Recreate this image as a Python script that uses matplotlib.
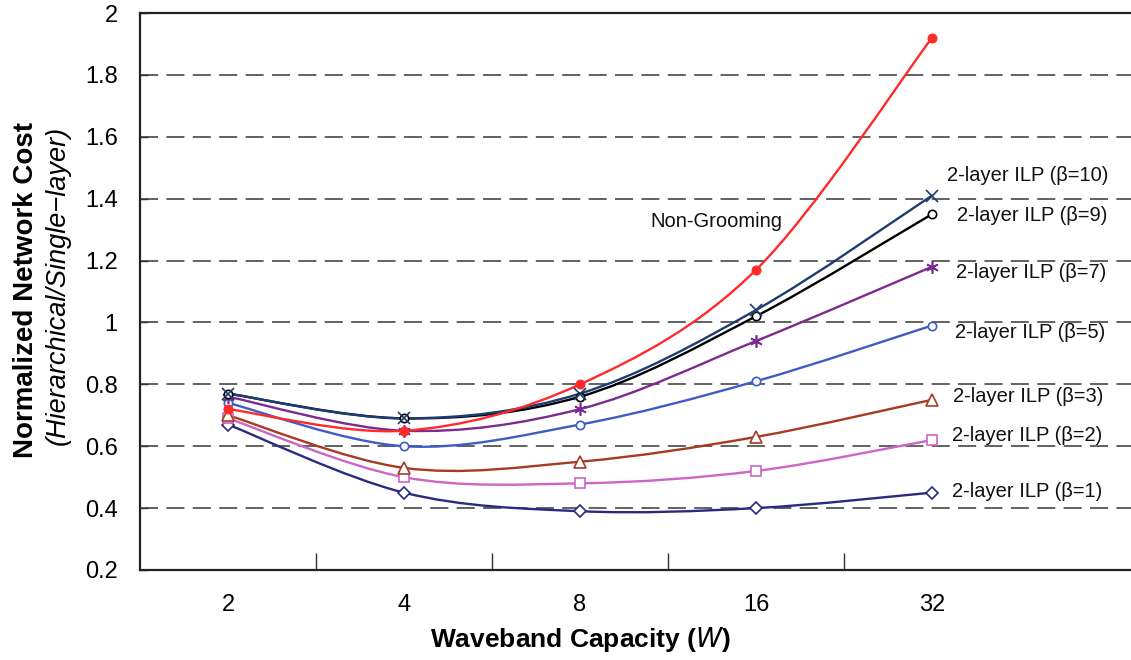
import matplotlib
matplotlib.use("Agg")
import matplotlib.pyplot as plt
from matplotlib.path import Path
from matplotlib.patches import PathPatch
import numpy as np

plt.rcParams['font.family'] = ['Liberation Sans', 'DejaVu Sans']
plt.rcParams['lines.scale_dashes'] = False

# ---- data ----
capacities = ["2", "4", "8", "16", "32"]

non_grooming = [0.72, 0.65, 0.80, 1.17, 1.92]
ilp_b10 = [0.77, 0.69, 0.77, 1.04, 1.41]
ilp_b9 = [0.77, 0.69, 0.76, 1.02, 1.35]
ilp_b7 = [0.76, 0.65, 0.72, 0.94, 1.18]
ilp_b5 = [0.74, 0.60, 0.67, 0.81, 0.99]
ilp_b3 = [0.70, 0.53, 0.55, 0.63, 0.75]
ilp_b2 = [0.69, 0.50, 0.48, 0.52, 0.62]
ilp_b1 = [0.67, 0.45, 0.39, 0.40, 0.45]

series_labels = ["Non-Grooming",
                 "2-layer ILP (β=10)", "2-layer ILP (β=9)", "2-layer ILP (β=7)",
                 "2-layer ILP (β=5)", "2-layer ILP (β=3)", "2-layer ILP (β=2)",
                 "2-layer ILP (β=1)"]

# ---- styles ----
styles = [
    dict(color="#FF2A2A", marker="o", mfc="#FF2A2A", ms=6),
    dict(color="#1F3C70", marker="x", mfc="none", ms=8),
    dict(color="#000000", marker="o", mfc="white", ms=6),
    dict(color="#7B2C8E", marker=(6, 2, 0), mfc="none", ms=9),
    dict(color="#3F5CC4", marker="o", mfc="white", ms=6),
    dict(color="#A63A22", marker="^", mfc="white", ms=8),
    dict(color="#CC66C4", marker="s", mfc="white", ms=7),
    dict(color="#2A2A80", marker="D", mfc="white", ms=6),
]
label_pos = [(2.40, 1.325), (4.085, 1.476), (4.142, 1.347), (4.136, 1.163),
             (4.131, 0.966), (4.119, 0.762), (4.114, 0.636), (4.114, 0.455)]


def smooth_path(xs, ys):
    """Cardinal-spline Bezier path through the given points."""
    pts = np.column_stack([xs, ys]).astype(float)
    n = len(pts)
    verts = [pts[0]]
    codes = [Path.MOVETO]
    for i in range(n - 1):
        p0 = pts[i - 1] if i > 0 else pts[i]
        p1 = pts[i]
        p2 = pts[i + 1]
        p3 = pts[i + 2] if i + 2 < n else pts[i + 1]
        c1 = p1 + (p2 - p0) / 6.0
        c2 = p2 - (p3 - p1) / 6.0
        verts += [c1, c2, p2]
        codes += [Path.CURVE4] * 3
    return Path(verts, codes)


fig = plt.figure(figsize=(11.31, 6.60), dpi=100)
ax = fig.add_axes([140 / 1131, 90 / 660, 1056 / 1131, 557 / 660])

x = np.arange(len(capacities))
all_series = [non_grooming, ilp_b10, ilp_b9, ilp_b7, ilp_b5, ilp_b3, ilp_b2, ilp_b1]

# draw lowest beta first so higher curves overlay
for vals, st in reversed(list(zip(all_series, styles))):
    patch = PathPatch(smooth_path(x, vals), fill=False, edgecolor=st["color"],
                      lw=1.7, transform=ax.transData, zorder=3)
    ax.add_patch(patch)
    ax.plot(x, vals, linestyle="none", marker=st["marker"], color=st["color"],
            mfc=st["mfc"], mec=st["color"], ms=st["ms"], mew=1.2, zorder=4)

for (tx, ty), lab in zip(label_pos, series_labels):
    ax.text(tx, ty, lab, fontsize=14.5, va="center", ha="left", color="#111111")

ax.set_xlim(-0.5, 5.5)
ax.set_ylim(0.2, 2.0)
ax.set_xticks(x)
ax.set_xticklabels(capacities)
ax.set_xticks(np.arange(0.5, 4.0, 1.0), minor=True)
ax.tick_params(axis="x", which="major", length=0, pad=17, labelsize=17)
ax.tick_params(axis="x", which="minor", direction="in", length=12, width=1.0, color="#333333")
ax.set_yticks(np.arange(0.2, 2.01, 0.2))
ax.set_yticklabels(["0.2", "0.4", "0.6", "0.8", "1", "1.2", "1.4", "1.6", "1.8", "2"])
ax.tick_params(axis="y", direction="in", length=6, width=1.0, pad=16, labelsize=17,
               color="#333333")

ax.yaxis.grid(True, color="#555555", lw=1.3, linestyle=(0, (13, 6)))
ax.set_axisbelow(True)

for side in ["left", "bottom", "top"]:
    ax.spines[side].set_color("#222222")
    ax.spines[side].set_linewidth(1.6)
ax.spines["right"].set_visible(False)

fig.text(580 / 1131, 1 - 640 / 660, r"Waveband Capacity ($\mathit{W}$)",
         ha="center", va="center", fontsize=19, fontweight="bold")
fig.text(26 / 1131, 1 - 290 / 660, "Normalized Network Cost", rotation=90,
         ha="center", va="center", fontsize=20, fontweight="bold")
fig.text(58 / 1131, 1 - 285 / 660, "(Hierarchical/Single\u2212layer)", rotation=90,
         ha="center", va="center", fontsize=19.5, fontstyle="italic")

fig.savefig("out.png", dpi=100)
